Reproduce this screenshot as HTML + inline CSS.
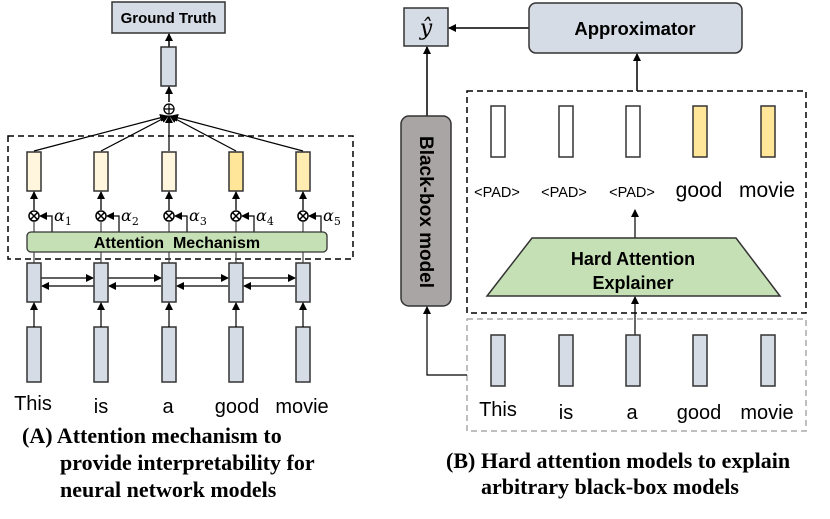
<!DOCTYPE html>
<html><head><style>body{margin:0;background:#fff}svg{display:block}</style></head><body>
<svg width="830" height="519" viewBox="0 0 830 519" xmlns="http://www.w3.org/2000/svg">
<defs>
<marker id="a" markerWidth="8" markerHeight="8" refX="7" refY="4" orient="auto" markerUnits="userSpaceOnUse"><path d="M0,0 L8,4 L0,8z" fill="#000"/></marker>
</defs>
<g font-family="Liberation Sans, sans-serif">
<!-- LEFT -->
<rect x="112" y="2" width="113" height="31" fill="#d6dce5" stroke="#333" stroke-width="1.5"/>
<text x="168.5" y="23" font-size="15" font-weight="bold" text-anchor="middle">Ground Truth</text>
<line x1="169" y1="47" x2="169" y2="34" stroke="#000" stroke-width="1.5" marker-end="url(#a)"/>
<rect x="161" y="47" width="15" height="39" fill="#d6dce5" stroke="#333" stroke-width="1.5"/>
<line x1="169" y1="102" x2="169" y2="87" stroke="#000" stroke-width="1.5" marker-end="url(#a)"/>
<circle cx="169" cy="109" r="5" fill="#fff" stroke="#000" stroke-width="1.3"/>
<path d="M164,109h10M169,104v10" stroke="#000" stroke-width="1.2"/>
<rect x="8" y="136" width="345" height="123" fill="none" stroke="#000" stroke-width="1.5" stroke-dasharray="6,4"/>
<g stroke="#000" stroke-width="1.2" marker-end="url(#a)">
<line x1="34" y1="151" x2="167" y2="116"/><line x1="101" y1="151" x2="168" y2="116"/><line x1="169" y1="151" x2="169" y2="116"/><line x1="236" y1="151" x2="170" y2="116"/><line x1="303" y1="151" x2="171" y2="116"/>
</g>
<g stroke="#333" stroke-width="1.5">
<rect x="27" y="152" width="14" height="39" fill="#fff6dd"/><rect x="94" y="152" width="14" height="39" fill="#fff6dd"/><rect x="162" y="152" width="14" height="39" fill="#fff6dd"/><rect x="229" y="152" width="14" height="39" fill="#ffe699"/><rect x="296" y="152" width="14" height="39" fill="#ffecb0"/>
</g>
<g id="m">
<line x1="34" y1="210" x2="34" y2="192" stroke="#000" stroke-width="1.3" marker-end="url(#a)"/>
<circle cx="34" cy="216" r="5" fill="#fff" stroke="#000" stroke-width="1.5"/>
<path d="M30.5,212.5l7,7M37.5,212.5l-7,7" stroke="#000" stroke-width="1.5"/>
<line x1="34" y1="221" x2="34" y2="232" stroke="#444" stroke-width="1.2"/>
<path d="M52,232V216H40" fill="none" stroke="#000" stroke-width="1.2" marker-end="url(#a)"/>
</g>
<use href="#m" x="67"/><use href="#m" x="135"/><use href="#m" x="202"/><use href="#m" x="269"/>
<g font-family="DejaVu Serif, serif" font-style="italic" font-size="16">
<text x="54" y="221">α<tspan font-size="11" font-style="normal" dy="4">1</tspan></text>
<text x="121" y="221">α<tspan font-size="11" font-style="normal" dy="4">2</tspan></text>
<text x="189" y="221">α<tspan font-size="11" font-style="normal" dy="4">3</tspan></text>
<text x="256" y="221">α<tspan font-size="11" font-style="normal" dy="4">4</tspan></text>
<text x="323" y="221">α<tspan font-size="11" font-style="normal" dy="4">5</tspan></text>
</g>
<rect x="27" y="232" width="300" height="20" rx="4" fill="#c5e0b4" stroke="#333" stroke-width="1.3"/>
<text x="177" y="248" font-size="16" font-weight="bold" text-anchor="middle" xml:space="preserve">Attention  Mechanism</text>
<g stroke="#444" stroke-width="1.2"><line x1="34" y1="252" x2="34" y2="263"/><line x1="101" y1="252" x2="101" y2="263"/><line x1="169" y1="252" x2="169" y2="263"/><line x1="236" y1="252" x2="236" y2="263"/><line x1="303" y1="252" x2="303" y2="263"/></g>
<g stroke="#000" stroke-width="1.2" marker-end="url(#a)">
<line x1="41" y1="278" x2="93" y2="278"/><line x1="108" y1="278" x2="161" y2="278"/><line x1="176" y1="278" x2="228" y2="278"/><line x1="243" y1="278" x2="295" y2="278"/>
<line x1="94" y1="286" x2="42" y2="286"/><line x1="161" y1="286" x2="109" y2="286"/><line x1="228" y1="286" x2="177" y2="286"/><line x1="295" y1="286" x2="244" y2="286"/>
</g>
<g stroke="#333" stroke-width="1.5" fill="#d6dce5">
<rect x="27" y="263" width="14" height="39"/><rect x="94" y="263" width="14" height="39"/><rect x="162" y="263" width="14" height="39"/><rect x="229" y="263" width="14" height="39"/><rect x="296" y="263" width="14" height="39"/>
<rect x="27" y="327" width="14" height="55"/><rect x="94" y="327" width="14" height="55"/><rect x="162" y="327" width="14" height="55"/><rect x="229" y="327" width="14" height="55"/><rect x="296" y="327" width="14" height="55"/>
</g>
<g stroke="#000" stroke-width="1.2" marker-end="url(#a)">
<line x1="34" y1="327" x2="34" y2="303"/><line x1="101" y1="327" x2="101" y2="303"/><line x1="169" y1="327" x2="169" y2="303"/><line x1="236" y1="327" x2="236" y2="303"/><line x1="303" y1="327" x2="303" y2="303"/>
</g>
<g font-size="20" text-anchor="middle">
<text x="33" y="410">This</text><text x="101" y="413">is</text><text x="168" y="413">a</text><text x="237" y="413">good</text><text x="302" y="413">movie</text>
</g>
<g font-family="Liberation Serif, serif" font-weight="bold" font-size="22">
<text x="22" y="443">(A) Attention mechanism to</text>
<text x="60" y="470">provide interpretability  for</text>
<text x="60" y="497">neural network models</text>
</g>
<!-- RIGHT -->
<rect x="404" y="8" width="44" height="38" fill="#d6dce5" stroke="#333" stroke-width="1.5"/>
<text x="426" y="35" font-family="DejaVu Serif, serif" font-style="italic" font-size="22" text-anchor="middle">ŷ</text>
<line x1="529" y1="28" x2="449" y2="28" stroke="#000" stroke-width="1.5" marker-end="url(#a)"/>
<rect x="529" y="3" width="213" height="50" rx="7" fill="#d6dce5" stroke="#333" stroke-width="1.5"/>
<text x="635" y="35" font-size="18.5" font-weight="bold" text-anchor="middle">Approximator</text>
<line x1="637" y1="91" x2="637" y2="54" stroke="#000" stroke-width="1.5" marker-end="url(#a)"/>
<line x1="427" y1="116" x2="427" y2="47" stroke="#000" stroke-width="1.5" marker-end="url(#a)"/>
<rect x="401" y="116" width="50" height="190" rx="8" fill="#aaa5a5" stroke="#333" stroke-width="1.5"/>
<text transform="translate(420,212) rotate(90)" font-size="19" font-weight="bold" text-anchor="middle">Black-box model</text>
<rect x="467" y="91" width="339" height="222" fill="none" stroke="#000" stroke-width="1.5" stroke-dasharray="6,4"/>
<g stroke="#333" stroke-width="1.5">
<rect x="491" y="106" width="14" height="51" fill="#fff"/><rect x="559" y="106" width="14" height="51" fill="#fff"/><rect x="626" y="106" width="14" height="51" fill="#fff"/><rect x="693" y="106" width="14" height="51" fill="#ffe699"/><rect x="761" y="106" width="14" height="51" fill="#ffe699"/>
</g>
<g font-size="14.5" text-anchor="middle"><text x="497" y="197">&lt;PAD&gt;</text><text x="564" y="197">&lt;PAD&gt;</text><text x="632" y="197">&lt;PAD&gt;</text></g>
<g font-size="21" text-anchor="middle"><text x="699" y="197">good</text><text x="767" y="197">movie</text></g>
<line x1="635" y1="238" x2="635" y2="210" stroke="#000" stroke-width="1.2" marker-end="url(#a)"/>
<polygon points="532,238 736,238 780,296 487,296" fill="#c5e0b4" stroke="#333" stroke-width="1.5"/>
<text x="633" y="265" font-size="18" font-weight="bold" text-anchor="middle">Hard Attention</text>
<text x="633" y="289" font-size="18" font-weight="bold" text-anchor="middle">Explainer</text>
<rect x="467" y="319" width="339" height="112" fill="none" stroke="#aaa" stroke-width="1.5" stroke-dasharray="6,4"/>
<line x1="635" y1="335" x2="635" y2="297" stroke="#000" stroke-width="1.2" marker-end="url(#a)"/>
<path d="M467,375H427V307" fill="none" stroke="#000" stroke-width="1.2" marker-end="url(#a)"/>
<g stroke="#333" stroke-width="1.5" fill="#d6dce5">
<rect x="491" y="335" width="14" height="51"/><rect x="559" y="335" width="14" height="51"/><rect x="626" y="335" width="14" height="51"/><rect x="693" y="335" width="14" height="51"/><rect x="761" y="335" width="14" height="51"/>
</g>
<g font-size="20" text-anchor="middle">
<text x="498" y="416">This</text><text x="566" y="419">is</text><text x="632" y="419">a</text><text x="699" y="419">good</text><text x="767" y="419">movie</text>
</g>
<g font-family="Liberation Serif, serif" font-weight="bold" font-size="22">
<text x="446" y="468">(B) Hard attention models to explain</text>
<text x="481" y="494">arbitrary black-box models</text>
</g>
</g>
</svg>
</body></html>
